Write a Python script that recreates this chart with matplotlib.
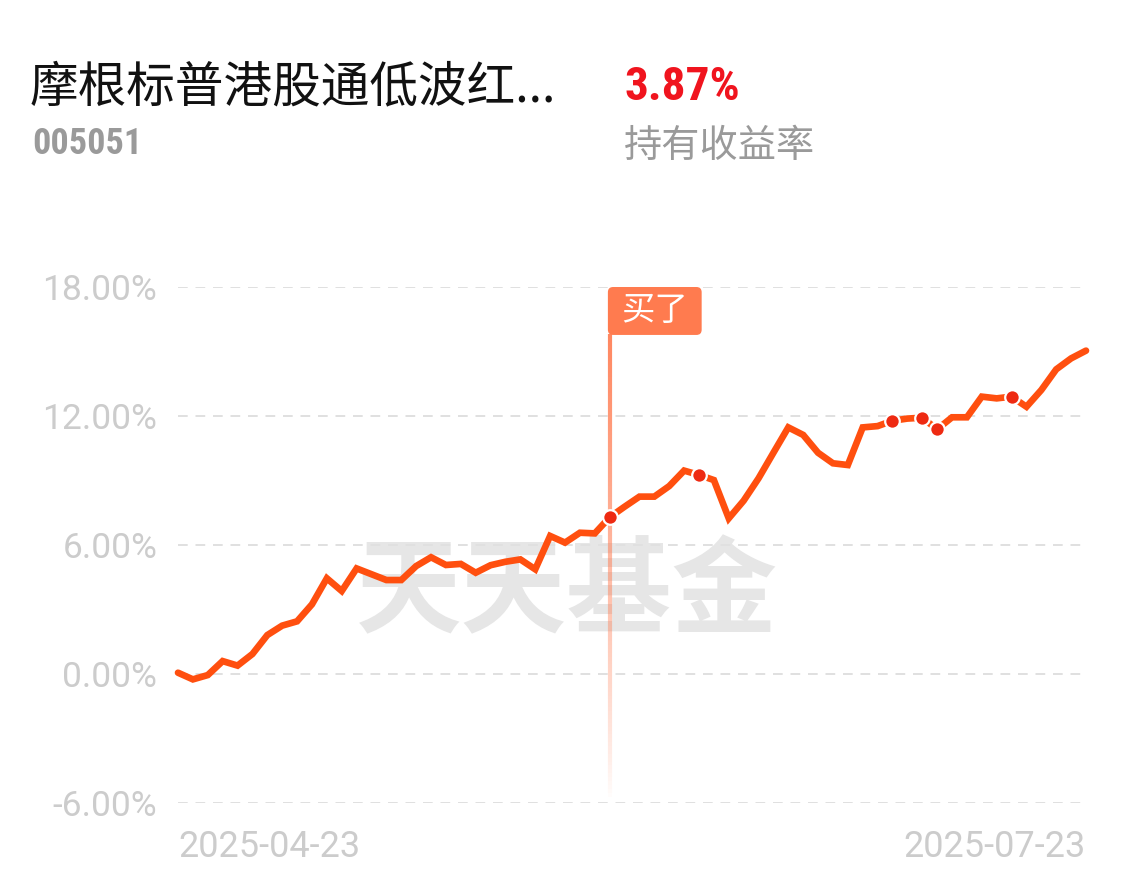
"""
Fund holding return chart: 摩根标普港股通低波红利 (005051).
"""

import numpy as np
import matplotlib
matplotlib.use("Agg")
import matplotlib.pyplot as plt
from matplotlib.collections import LineCollection
from matplotlib.patches import FancyBboxPatch
from matplotlib import font_manager

# ---- data ----
fund_name = "摩根标普港股通低波红..."
fund_code = "005051"
hold_return = "3.87%"
hold_return_label = "持有收益率"
start_label = "2025-04-23"
end_label = "2025-07-23"
buy_label = "买了"
watermark = "天天基金"

returns = [
    0.06, -0.25, -0.05, 0.60, 0.39, 0.93, 1.81, 2.25, 2.45, 3.24,
    4.45, 3.86, 4.91, 4.64, 4.37, 4.37, 5.02, 5.43, 5.07, 5.12,
    4.71, 5.06, 5.22, 5.33, 4.87, 6.42, 6.11, 6.57, 6.54, 7.29,
    7.78, 8.25, 8.25, 8.74, 9.46, 9.26, 9.02, 7.24, 8.06, 9.10,
    10.29, 11.47, 11.12, 10.29, 9.80, 9.72, 11.47, 11.53, 11.78, 11.88,
    11.92, 11.38, 11.94, 11.94, 12.90, 12.82, 12.90, 12.43, 13.21, 14.17,
    14.68, 15.04,
]
buy_index = 29
trade_marks = [29, 35, 48, 50, 51, 56]
y_ticks = [-6, 0, 6, 12, 18]

LINE = "#FF4F0F"
DOT = "#EE2A12"
FLAG = "#FF7B4F"
GREY = "#CCCCCC"

# narrow face for the big red figure, if one is installed
names = {f.name for f in font_manager.fontManager.ttflist}
narrow = [n for n in ["Liberation Sans Narrow", "Roboto Condensed", "DejaVu Sans Condensed"]
          if n in names]
num_family = narrow + ["Roboto", "DejaVu Sans"]

W, H = 1130, 876
fig = plt.figure(figsize=(W / 100, H / 100), dpi=100)
fig.patch.set_facecolor("white")

# axes placed in pixel terms
left, right, top, bottom = 178, 1086, 287, 803
ax = fig.add_axes([left / W, 1 - bottom / H, (right - left) / W, (bottom - top) / H])

x = np.arange(len(returns))
ax.set_xlim(0, len(returns) - 1)
ax.set_ylim(-6, 18)

for s in ax.spines.values():
    s.set_visible(False)

# dashed grid
for yv in y_ticks:
    ax.axhline(yv, color="#E0E0E0", lw=1.4, ls=(0, (5, 4)), zorder=1)

ax.set_yticks(y_ticks)
ax.set_yticklabels([f"{v:.2f}%" for v in y_ticks])
ax.tick_params(axis="y", length=0, pad=15, labelsize=25.5, labelcolor=GREY)
for lbl in ax.get_yticklabels():
    lbl.set_family(["Roboto", "DejaVu Sans"])

ax.set_xticks([0, len(returns) - 1])
ax.set_xticklabels([start_label, end_label])
ax.tick_params(axis="x", length=0, pad=19, labelsize=26, labelcolor=GREY)
xl = ax.get_xticklabels()
xl[0].set_ha("left")
xl[1].set_ha("right")
for lbl in xl:
    lbl.set_family(["Roboto", "DejaVu Sans"])

# watermark
ax.text(0.428, 0.405, watermark, transform=ax.transAxes, ha="center", va="center",
        fontsize=76, fontweight="bold", color="#E6E6E6",
        family=["Noto Sans CJK SC", "DejaVu Sans"], zorder=0.5)

# buy marker: fading vertical line + flag
y_top, y_bot = 15.8, -5.7
ys = np.linspace(y_top, y_bot, 120)
segs = [[(buy_index, ys[i]), (buy_index, ys[i + 1])] for i in range(len(ys) - 1)]
frac = (ys[:-1] - y_bot) / (y_top - y_bot)
alphas = 0.9 * frac ** 0.8
cols = [(1.0, 0.48, 0.31, a) for a in alphas]
ax.add_collection(LineCollection(segs, colors=cols, linewidths=3, zorder=2))

box = FancyBboxPatch((buy_index - 0.12, 15.77), 6.3, 2.23,
                     boxstyle="round,pad=0,rounding_size=0.35",
                     mutation_aspect=0.69, fc=FLAG, ec="none", zorder=4,
                     clip_on=False)
ax.add_patch(box)
ax.text(buy_index + 3.0, 16.9, buy_label, ha="center", va="center",
        fontsize=24, color="white", family=["Noto Sans CJK SC", "DejaVu Sans"],
        zorder=5)

# return line
ax.plot(x, returns, color=LINE, lw=4.8, solid_joinstyle="miter",
        solid_capstyle="round", zorder=3, clip_on=False)
ax.plot(x[trade_marks], np.array(returns)[trade_marks], "o", ms=10.5,
        mfc=DOT, mec="white", mew=1.6, zorder=4, clip_on=False)

# header
cjk = ["Noto Sans CJK SC", "DejaVu Sans"]
fig.text(30 / W, 1 - 88 / H, fund_name, ha="left", va="center", fontsize=35,
         color="#111111", family=cjk)
fig.text(32 / W, 1 - 144 / H, fund_code, ha="left", va="center", fontsize=26,
         fontweight="bold", color="#9A9A9A", family=num_family)
fig.text(624 / W, 1 - 87 / H, hold_return, ha="left", va="center", fontsize=34,
         fontweight="bold", color="#F0141E", family=num_family)
fig.text(624 / W, 1 - 147 / H, hold_return_label, ha="left", va="center",
         fontsize=27.5, color="#9A9A9A", family=cjk)

fig.savefig("out.png", dpi=100, facecolor="white")
